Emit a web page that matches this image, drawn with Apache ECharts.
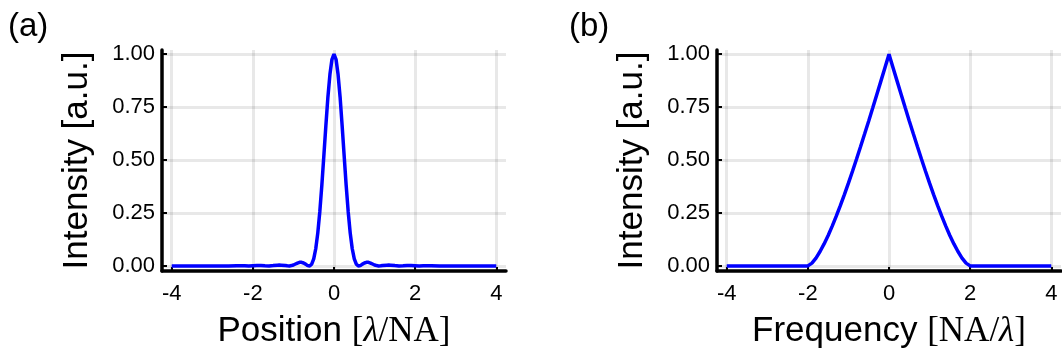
<!DOCTYPE html>
<html>
<head>
<meta charset="utf-8">
<title>PSF and OTF</title>
<script src="https://cdn.jsdelivr.net/npm/echarts@6/dist/echarts.min.js"></script>
<style>
  html, body { margin: 0; padding: 0; background: #fff; }
  #chart { width: 1062px; height: 354px; }
</style>
</head>
<body>
<div id="chart"></div>
<script>
// (a) point spread function
const posX = [
  -4, -3.5, -3, -2.6, -2.4, -2.2, -2.1, -2.0, -1.9, -1.8, -1.7, -1.6, -1.5, -1.4, -1.35, -1.3,
  -1.2, -1.15, -1.1, -1.05, -1.0, -0.95, -0.9, -0.85, -0.8, -0.75, -0.7, -0.65, -0.6, -0.55,
  -0.5, -0.45, -0.4, -0.35, -0.3, -0.25, -0.2, -0.15, -0.1, -0.05, 0,
  0.05, 0.1, 0.15, 0.2, 0.25, 0.3, 0.35, 0.4, 0.45, 0.5,
  0.55, 0.6, 0.65, 0.7, 0.75, 0.8, 0.85, 0.9, 0.95, 1.0, 1.05, 1.1, 1.15, 1.2,
  1.3, 1.35, 1.4, 1.5, 1.6, 1.7, 1.8, 1.9, 2.0, 2.1, 2.2, 2.4, 2.6, 3, 3.5, 4
]
const psfY = [
  0, 0.0001, 0.0002, 0.0001, 0.0006, 0.0003, 0.0001, 0.0009, 0.0015, 0.0014, 0.0006, 0, 0.0015, 0.0036, 0.0041, 0.0037,
  0.0016, 0.0003, 0.0001, 0.0016, 0.0045, 0.009, 0.0135, 0.017, 0.017, 0.0137, 0.0085, 0.0017, 0, 0.008,
  0.033, 0.081, 0.155, 0.256, 0.38, 0.521, 0.664, 0.798, 0.905, 0.976, 1.0,
  0.976, 0.905, 0.798, 0.664, 0.521, 0.38, 0.256, 0.155, 0.081, 0.033,
  0.008, 0, 0.0017, 0.0085, 0.0137, 0.017, 0.017, 0.0135, 0.009, 0.0045, 0.0016, 0.0001, 0.0003, 0.0016,
  0.0037, 0.0041, 0.0036, 0.0015, 0, 0.0006, 0.0014, 0.0015, 0.0009, 0.0001, 0.0003, 0.0006, 0.0001, 0.0002, 0.0001, 0
]

// (b) transfer function
const freqX = [
  -4, -2, -1.9, -1.8, -1.7, -1.6, -1.5, -1.4, -1.3, -1.2, -1.1, -1.0, -0.9, -0.8, -0.7, -0.6,
  -0.5, -0.4, -0.3, -0.2, -0.1, 0, 0.1, 0.2, 0.3, 0.4, 0.5, 0.6, 0.7, 0.8, 0.9, 1.0,
  1.1, 1.2, 1.3, 1.4, 1.5, 1.6, 1.7, 1.8, 1.9, 2, 4
]
const otfY = [
  0, 0, 0.013, 0.037, 0.068, 0.104, 0.144, 0.188, 0.235, 0.285, 0.337, 0.391, 0.447, 0.505, 0.564, 0.624,
  0.685, 0.747, 0.81, 0.873, 0.936, 1.0, 0.936, 0.873, 0.81, 0.747, 0.685, 0.624, 0.564, 0.505, 0.447, 0.391,
  0.337, 0.285, 0.235, 0.188, 0.144, 0.104, 0.068, 0.037, 0.013, 0, 0
]

const xTicks = [-4, -2, 0, 2, 4]
const yTicks = [0, 0.25, 0.5, 0.75, 1]

const sans = 'Liberation Sans'
const serif = 'Liberation Serif'
const gridColor = 'rgba(0, 0, 0, 0.09)'
const titleSize = 35

function xAxisOf(gridIndex, rich) {
  return {
    type: 'value',
    gridIndex: gridIndex,
    min: -4.24,
    max: 4.24,
    name: rich,
    nameLocation: 'middle',
    nameGap: 43,
    nameTextStyle: {
      color: '#000',
      fontFamily: sans,
      fontSize: titleSize,
      rich: {
        s: { fontFamily: sans, fontSize: titleSize, color: '#000' },
        m: { fontFamily: serif, fontSize: titleSize, color: '#000' },
        i: { fontFamily: serif, fontStyle: 'italic', fontSize: titleSize, color: '#000' },
      },
    },
    axisLine: { show: true, onZero: false, lineStyle: { color: '#000', width: 3.5 } },
    axisTick: { show: true, inside: true, length: 4, customValues: xTicks, lineStyle: { color: '#000', width: 2 } },
    axisLabel: { customValues: xTicks, color: '#000', fontFamily: sans, fontSize: 22, margin: 12 },
    splitLine: { show: true, lineStyle: { color: gridColor, width: 3 } },
  }
}

function yAxisOf(gridIndex) {
  return {
    type: 'value',
    gridIndex: gridIndex,
    min: -0.024,
    max: 1.02,
    name: 'Intensity [a.u.]',
    nameLocation: 'middle',
    nameGap: 67,
    nameTextStyle: { color: '#000', fontFamily: sans, fontSize: titleSize },
    axisLine: { show: true, onZero: false, lineStyle: { color: '#000', width: 3.5 } },
    axisTick: { show: true, inside: true, length: 5, customValues: yTicks, lineStyle: { color: '#000', width: 2 } },
    axisLabel: {
      customValues: yTicks,
      color: '#000',
      fontFamily: sans,
      fontSize: 22,
      margin: 7,
      formatter: function (v) { return v.toFixed(2) },
    },
    splitLine: { show: true, lineStyle: { color: gridColor, width: 3 } },
  }
}

function pairs(xs, ys) {
  return xs.map(function (x, i) { return [x, ys[i]] })
}

const option = {
  backgroundColor: '#fff',
  animation: false,
  title: [
    { text: '(a)', left: 8, top: 10, padding: 0, textStyle: { fontFamily: sans, fontSize: 33, fontWeight: 'normal', color: '#000' } },
    { text: '(b)', left: 569, top: 10, padding: 0, textStyle: { fontFamily: sans, fontSize: 33, fontWeight: 'normal', color: '#000' } },
  ],
  grid: [
    { left: 162, top: 50, width: 344, height: 224 },
    { left: 717, top: 50, width: 344, height: 224 },
  ],
  xAxis: [
    xAxisOf(0, '{s|Position }{m|[}{i|λ}{m|/NA]}'),
    xAxisOf(1, '{s|Frequency }{m|[NA/}{i|λ}{m|]}'),
  ],
  yAxis: [yAxisOf(0), yAxisOf(1)],
  series: [
    {
      type: 'line',
      xAxisIndex: 0,
      yAxisIndex: 0,
      data: pairs(posX, psfY),
      showSymbol: false,
      lineStyle: { color: '#0000ff', width: 3.5 },
    },
    {
      type: 'line',
      xAxisIndex: 1,
      yAxisIndex: 1,
      data: pairs(freqX, otfY),
      showSymbol: false,
      lineStyle: { color: '#0000ff', width: 3.5 },
    },
  ],
}

const myChart = echarts.init(document.getElementById('chart'), null, { renderer: 'canvas' })
myChart.setOption(option, true)
</script>
</body>
</html>
